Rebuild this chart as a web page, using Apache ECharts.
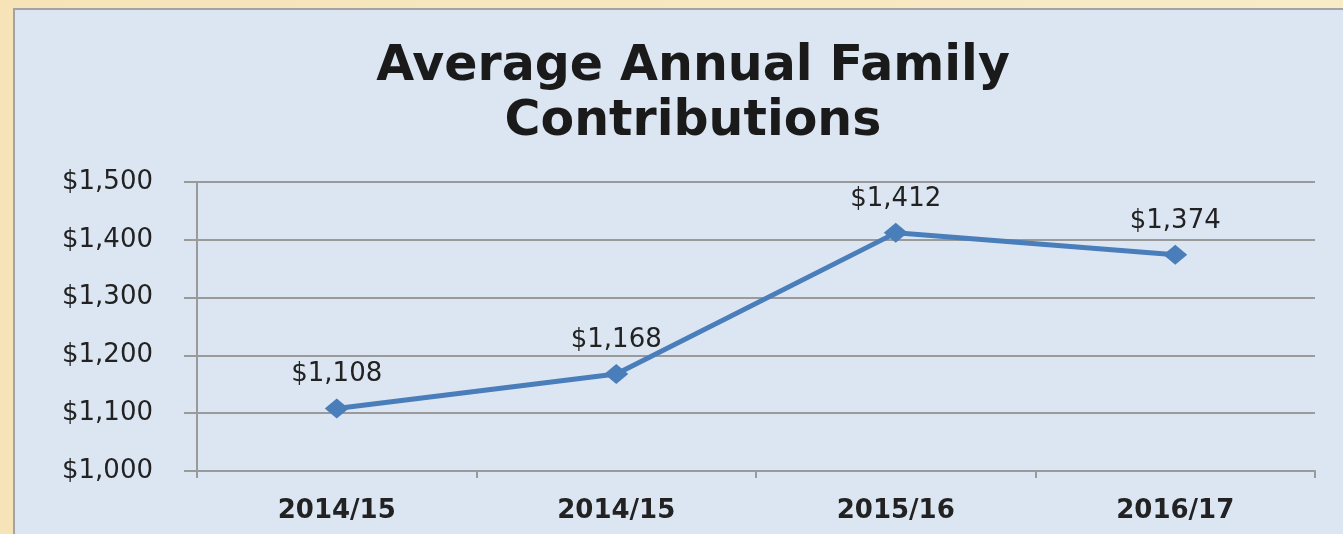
<!DOCTYPE html>
<html>
<head>
<meta charset="utf-8">
<script src="https://cdn.jsdelivr.net/npm/echarts@6/dist/echarts.min.js"></script>
<style>
  html, body { margin: 0; padding: 0; }
  #chart { width: 1343px; height: 534px; }
</style>
</head>
<body>
<div id="chart"></div>
<script>
// data
var categories = ['2014/15', '2014/15', '2015/16', '2016/17'];
var contributions = [1108, 1168, 1412, 1374];
var yTicks = [1000, 1100, 1200, 1300, 1400, 1500];

var money = function(v) {
	return '$' + String(v).replace(/\B(?=(\d{3})+(?!\d))/g, ',');
};

var myChart = echarts.init(document.getElementById('chart'));

var option = {
	backgroundColor: {
		type: 'linear', x: 0, y: 0, x2: 1, y2: 0,
		colorStops: [
			{offset: 0, color: '#f6e4b8'},
			{offset: 1, color: '#f8ebc8'}
		]
	},
	graphic: [
		{
			type: 'rect',
			z: -10,
			shape: {x: 14, y: 9, width: 1340, height: 540},
			style: {fill: '#dce6f2', stroke: '#a3a3a3', lineWidth: 2}
		}
	],
	title: {
		text: 'Average Annual Family\nContributions',
		left: 688,
		textAlign: 'center',
		top: 35,
		textStyle: {
			fontFamily: 'DejaVu Sans',
			fontWeight: 'bold',
			fontSize: 49,
			lineHeight: 55,
			color: '#1a1a1a'
		}
	},
	grid: {
		left: 197,
		right: 28,
		top: 182,
		bottom: 63
	},
	xAxis: {
		type: 'category',
		data: categories,
		boundaryGap: true,
		axisLine: {lineStyle: {color: '#9a9a9a', width: 2}},
		axisTick: {show: true, length: 7, lineStyle: {color: '#9a9a9a', width: 2}},
		axisLabel: {
			margin: 27,
			fontFamily: 'DejaVu Sans',
			fontWeight: 'bold',
			fontSize: 26,
			color: '#222'
		}
	},
	yAxis: {
		type: 'value',
		min: yTicks[0],
		max: yTicks[yTicks.length - 1],
		interval: 100,
		axisLine: {show: true, lineStyle: {color: '#9a9a9a', width: 2}},
		axisTick: {show: true, length: 13, lineStyle: {color: '#9a9a9a', width: 2}},
		splitLine: {lineStyle: {color: '#9a9a9a', width: 2}},
		axisLabel: {
			margin: 44,
			fontFamily: 'DejaVu Sans',
			fontSize: 26,
			color: '#222',
			formatter: money
		}
	},
	series: [
		{
			type: 'line',
			data: contributions,
			symbol: 'diamond',
			symbolSize: [24, 20],
			lineStyle: {color: '#4a7ebb', width: 5},
			itemStyle: {color: '#4a7ebb'},
			label: {
				show: true,
				position: 'top',
				distance: 11,
				fontFamily: 'DejaVu Sans',
				fontSize: 26,
				color: '#222',
				formatter: function(p) { return money(p.value); }
			}
		}
	]
};

myChart.setOption(option);
</script>
</body>
</html>
